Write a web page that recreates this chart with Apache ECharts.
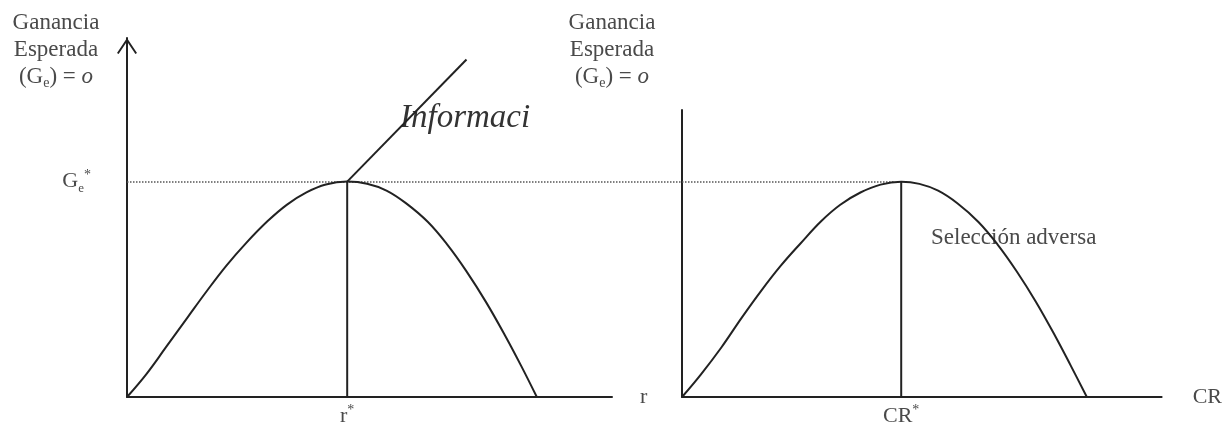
<!DOCTYPE html>
<html>
<head>
<meta charset="utf-8">
<script src="https://cdn.jsdelivr.net/npm/echarts@6.0.0/dist/echarts.min.js"></script>
<style>
    html, body { margin: 0; padding: 0; background: #fff; }
    #main { width: 1225px; height: 427px; }
</style>
</head>
<body>
<div id="main"></div>
<script>
    // curva izquierda: ganancia esperada vs r
    const leftX = [0, 4, 8, 12.5, 16.5, 20.5, 24.5, 29, 33, 37, 41, 45.4, 49.5, 53.5, 57.5, 62, 66, 70, 74, 78, 81.3, 84.5];
    const leftY = [0, 6.4, 13.8, 22.2, 29.6, 36.6, 42.8, 49, 53.6, 57, 59.2, 60, 59.4, 57.5, 54, 48.8, 42.5, 35, 26.5, 17, 8.6, 0];
    // curva derecha: ganancia esperada vs CR
    const rightX = [0, 4, 8.2, 12.5, 16.5, 20.6, 24.7, 29, 33, 37.2, 41.4, 45.7, 49.5, 53.4, 57.4, 61.8, 65.8, 69.8, 73.8, 77.8, 81.1, 84.4];
    const rightY = [0, 6.4, 13.8, 22.2, 29.6, 36.6, 42.8, 49, 53.6, 57, 59.2, 60, 59.4, 57.5, 54, 48.8, 42.5, 35, 26.5, 17, 8.6, 0];
    // recta de informacion
    const infoX = [45.4, 70];
    const infoY = [60, 94];
    const rStar = 45.4;
    const crStar = 45.7;
    const geStar = 60;

    const serif = '"Liberation Serif", "DejaVu Serif", serif';
    const ink = '#222';
    const txt = '#4a4a4a';

    const pairs = (xs, ys) => xs.map((x, i) => [x, ys[i]]);

    // estilos rich para etiquetas de ejes
    const richAxis = {
        n: { fontFamily: serif, fontSize: 22, color: txt, lineHeight: 26 },
        s: { fontFamily: serif, fontSize: 13, color: txt, lineHeight: 26, verticalAlign: 'bottom' },
        a: { fontFamily: serif, fontSize: 14, color: txt, lineHeight: 24, verticalAlign: 'top' }
    };
    // estilos rich para los textos graficos (zrender usa fill)
    const richG = {
        n: { fontFamily: serif, fontSize: 23, fill: txt, lineHeight: 27 },
        s: { fontFamily: serif, fontSize: 14, fill: txt, lineHeight: 27, verticalAlign: 'bottom' },
        i: { fontFamily: serif, fontSize: 23, fill: txt, lineHeight: 27, fontStyle: 'italic' }
    };
    const yTitle = '{n|Ganancia}\n{n|Esperada}\n{n|(G}{s|e}{n|) = }{i|o}';

    const axisLine = { show: true, lineStyle: { color: ink, width: 2 } };

    const option = {
        backgroundColor: '#fff',
        animation: false,
        grid: [
            { left: 127, right: 613, top: 38, bottom: 29 },
            { left: 682, right: 62, top: 110, bottom: 29 },
            { left: 127, right: 330, top: 38, bottom: 29 }
        ],
        xAxis: [
            {
                type: 'value', gridIndex: 0, min: 0, max: 100,
                axisLine: axisLine, axisTick: { show: false }, splitLine: { show: false },
                axisLabel: {
                    customValues: [rStar], margin: 6,
                    formatter: () => '{n|r}{a|*}', rich: richAxis
                },
                name: 'r', nameLocation: 'end', nameGap: 28,
                nameTextStyle: { fontFamily: serif, fontSize: 22, color: txt, verticalAlign: 'middle' }
            },
            {
                type: 'value', gridIndex: 1, min: 0, max: 100,
                axisLine: axisLine, axisTick: { show: false }, splitLine: { show: false },
                axisLabel: {
                    customValues: [crStar], margin: 6,
                    formatter: () => '{n|CR}{a|*}', rich: richAxis
                },
                name: 'CR', nameLocation: 'end', nameGap: 31,
                nameTextStyle: { fontFamily: serif, fontSize: 22, color: txt, verticalAlign: 'middle' }
            },
            { type: 'value', gridIndex: 2, min: 0, max: 1, show: false }
        ],
        yAxis: [
            {
                type: 'value', gridIndex: 0, min: 0, max: 100,
                axisLine: {
                    show: true, lineStyle: { color: ink, width: 2 },
                    symbol: ['none', 'path://M0,15 L10,0 L20,15 L18.4,16 L10,3.4 L1.6,16 Z'],
                    symbolSize: [20, 16], symbolOffset: [0, -8]
                },
                axisTick: { show: false }, splitLine: { show: false },
                axisLabel: {
                    customValues: [geStar], margin: 36,
                    formatter: () => '{n|G}{s|e}{a|*}', rich: richAxis
                }
            },
            {
                type: 'value', gridIndex: 1, min: 0, max: 80,
                axisLine: axisLine, axisTick: { show: false }, splitLine: { show: false },
                axisLabel: { show: false }
            },
            { type: 'value', gridIndex: 2, min: 0, max: 100, show: false }
        ],
        graphic: [
            { type: 'text', x: 56, y: 9, style: { text: yTitle, rich: richG, align: 'center' } },
            { type: 'text', x: 612, y: 9, style: { text: yTitle, rich: richG, align: 'center' } },
            {
                type: 'text', x: 400, y: 102,
                style: { text: 'Informaci', fontFamily: serif, fontSize: 33, fontStyle: 'italic', fill: '#333' }
            },
            {
                type: 'text', x: 931, y: 226,
                style: { text: 'Selección adversa', fontFamily: serif, fontSize: 23, fill: txt }
            }
        ],
        series: [
            {
                type: 'line', xAxisIndex: 2, yAxisIndex: 2, showSymbol: false,
                data: [[0, geStar], [1, geStar]],
                lineStyle: { color: '#555', width: 1.5, type: 'dotted' }, z: 1
            },
            {
                type: 'line', xAxisIndex: 0, yAxisIndex: 0, showSymbol: false, smooth: 0.4,
                data: pairs(leftX, leftY), lineStyle: { color: ink, width: 2 }
            },
            {
                type: 'line', xAxisIndex: 0, yAxisIndex: 0, showSymbol: false,
                data: [[rStar, 0], [rStar, geStar]], lineStyle: { color: ink, width: 2 }
            },
            {
                type: 'line', xAxisIndex: 0, yAxisIndex: 0, showSymbol: false,
                data: pairs(infoX, infoY), lineStyle: { color: ink, width: 2 }
            },
            {
                type: 'line', xAxisIndex: 1, yAxisIndex: 1, showSymbol: false, smooth: 0.4,
                data: pairs(rightX, rightY), lineStyle: { color: ink, width: 2 }
            },
            {
                type: 'line', xAxisIndex: 1, yAxisIndex: 1, showSymbol: false,
                data: [[crStar, 0], [crStar, geStar]], lineStyle: { color: ink, width: 2 }
            }
        ]
    };

    const myChart = echarts.init(document.getElementById('main'));
    myChart.setOption(option);
</script>
</body>
</html>
